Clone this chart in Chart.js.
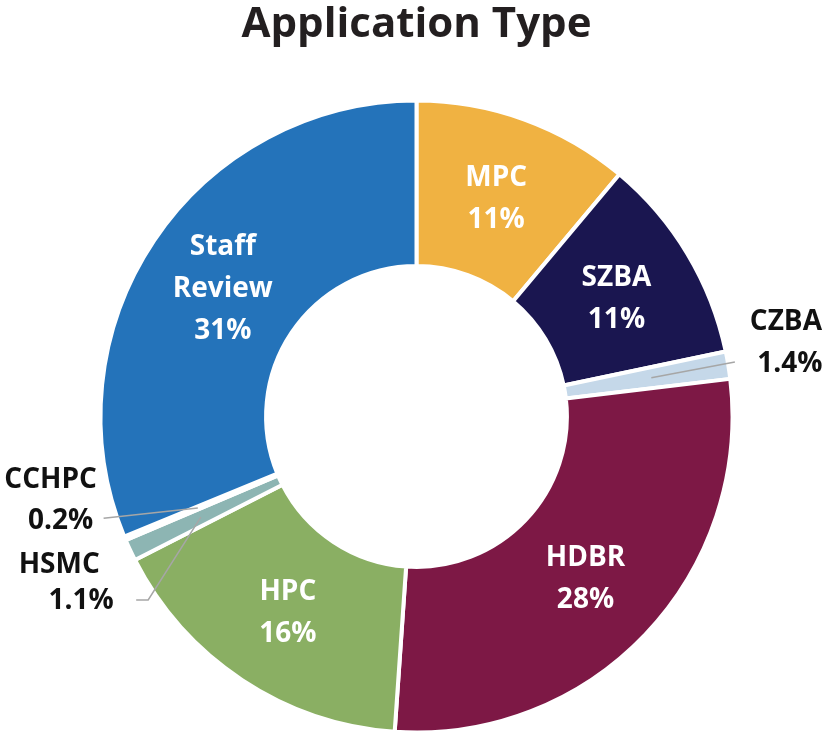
<!DOCTYPE html>
<html><head><meta charset="utf-8">
<script src="https://cdn.jsdelivr.net/npm/chart.js@4"></script>
<style>html,body{margin:0;padding:0;background:#fff}#wrap{width:828px;height:733px}</style>
</head><body><div id="wrap"><canvas id="c" width="828" height="733"></canvas></div>
<script>
const categories = ['MPC', 'SZBA', 'CZBA', 'HDBR', 'HPC', 'HSMC', 'CCHPC', 'Staff Review'];
const shares = [11.1, 10.6, 1.4, 28.0, 16.4, 1.1, 0.2, 31.2];
const sliceColors = ['#F0B242', '#1A1650', '#C5D8E9', '#7D1845', '#8AAF63', '#8DB5B3', '#D5E3E3', '#2473BA'];
const outsideCategories = ['CZBA', 'HSMC', 'CCHPC'];

const fmtPct = v => (v < 2 ? v.toFixed(1) : Math.round(v).toString()) + '%';

// label layout styles (not data)
const FONT = '"Open Sans"';
const LINE_H = 42;
const CAP_HALF = 10;
const outsideStyle = {
  CZBA:  { r0: 238, end: { ang: 80.3, r: 323 }, tail: 0, text: [{ dx: 51, dy: -32 }, { dx: 55, dy: 10 }] },
  CCHPC: { r0: 237, end: { ang: 252, r: 329 }, tail: 0, text: [{ dx: -53, dy: -30 }, { dx: -43, dy: 11 }] },
  HSMC:  { r0: 238, end: { ang: 235.65, r: 325 }, tail: -12, text: [{ dx: -77, dy: -27 }, { dx: -55, dy: 9 }] }
};

const labelPlugin = {
  id: 'sliceLabels',
  afterDatasetsDraw(chart) {
    const ctx = chart.ctx;
    const meta = chart.getDatasetMeta(0);
    ctx.save();
    ctx.font = 'bold 28px ' + FONT;
    ctx.textAlign = 'center';
    ctx.textBaseline = 'alphabetic';
    meta.data.forEach((arc, i) => {
      const p = arc.getProps(['x', 'y', 'startAngle', 'endAngle', 'innerRadius', 'outerRadius'], true);
      const cat = categories[i];
      const pct = fmtPct(shares[i]);
      const mid = (p.startAngle + p.endAngle) / 2;
      if (outsideCategories.includes(cat)) {
        const st = outsideStyle[cat];
        const sx = p.x + Math.cos(mid) * st.r0, sy = p.y + Math.sin(mid) * st.r0;
        const ea = (st.end.ang - 90) * Math.PI / 180;
        const ex = p.x + Math.cos(ea) * st.end.r, ey = p.y + Math.sin(ea) * st.end.r;
        ctx.strokeStyle = '#A6A6A6';
        ctx.lineWidth = 1.5;
        ctx.beginPath();
        ctx.moveTo(sx, sy);
        ctx.lineTo(ex, ey);
        let lx = ex;
        if (st.tail) { lx = ex + st.tail; ctx.lineTo(lx, ey); }
        ctx.stroke();
        ctx.fillStyle = '#111111';
        const lines = [cat, pct];
        lines.forEach((t, k) => {
          ctx.fillText(t, lx + st.text[k].dx, ey + st.text[k].dy);
        });
      } else {
        const cx = p.x + Math.cos(mid) * (p.innerRadius + p.outerRadius) / 2;
        const cy = p.y + Math.sin(mid) * (p.innerRadius + p.outerRadius) / 2;
        const lines = cat.split(' ').concat([pct]);
        ctx.fillStyle = '#FFFFFF';
        lines.forEach((t, k) => {
          ctx.fillText(t, cx, cy + (k - (lines.length - 1) / 2) * LINE_H + CAP_HALF);
        });
      }
    });
    ctx.restore();
  }
};

new Chart(document.getElementById('c'), {
  type: 'doughnut',
  data: {
    labels: categories,
    datasets: [{
      data: shares,
      backgroundColor: sliceColors,
      borderColor: '#FFFFFF',
      borderWidth: 4
    }]
  },
  options: {
    responsive: false,
    animation: false,
    devicePixelRatio: 1,
    radius: 316,
    cutout: '47.6%',
    layout: { padding: { left: 5, right: 0, top: 0, bottom: 2 } },
    plugins: {
      legend: { display: false },
      tooltip: { enabled: false },
      title: {
        display: true,
        text: 'Application Type',
        color: '#231F20',
        font: { family: 'Open Sans', size: 42, weight: 'bold' },
        padding: { top: 0, bottom: 51.6 }
      }
    }
  },
  plugins: [labelPlugin]
});
</script>
</body></html>
